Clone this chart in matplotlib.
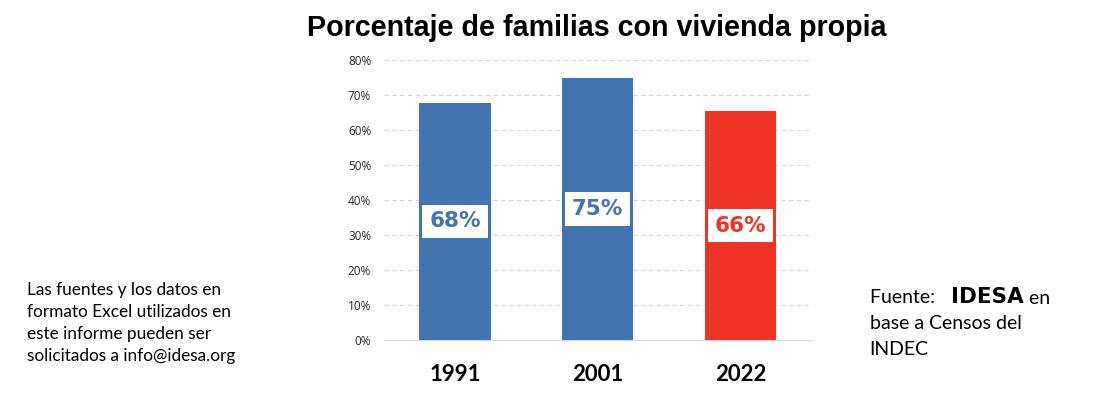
import matplotlib.pyplot as plt

years = ["1991", "2001", "2022"]
values = [67.7, 74.8, 65.4]
labels = ["68%", "75%", "66%"]
colors = ["#4174B0", "#4174B0", "#EE3424"]
yticks = [0, 10, 20, 30, 40, 50, 60, 70, 80]

note_lines = ["Las fuentes y los datos en", "formato Excel utilizados en",
              "este informe pueden ser", "solicitados a info@idesa.org"]

fig = plt.figure(figsize=(11.12, 3.94), dpi=100)
ax = fig.add_axes([0.345, 0.137, 0.385, 0.711])

x = range(len(years))
bars = ax.bar(x, values, width=0.5, color=colors, zorder=3)

for i, (v, lab, c) in enumerate(zip(values, labels, colors)):
    ax.text(i, v / 2, lab, ha="center", va="center", fontsize=15.5, fontweight="bold",
            color=c, family="DejaVu Sans", zorder=4,
            bbox=dict(facecolor="white", edgecolor="none", boxstyle="square,pad=0.32"))

ax.set_xlim(-0.5, 2.5)
ax.set_ylim(0, 80)
ax.set_yticks(yticks)
ax.set_yticklabels([f"{t}%" for t in yticks], fontsize=8.5, family="Open Sans", color="#262626")
ax.set_xticks(list(x))
ax.set_xticklabels(years, fontsize=16, fontweight="bold", family="Lato")
ax.tick_params(axis="both", length=0)
ax.tick_params(axis="x", pad=17)
ax.tick_params(axis="y", pad=9)
ax.grid(axis="y", color="#D9D9D9", linestyle=(0, (4, 3)), linewidth=0.8, zorder=0)
for s in ["top", "right", "left"]:
    ax.spines[s].set_visible(False)
ax.spines["bottom"].set_color("#D9D9D9")

fig.text(0.537, 0.93, "Porcentaje de familias con vivienda propia", ha="center", va="center",
         fontsize=20.6, fontweight="bold", family="Liberation Sans")

# nota a la izquierda, una línea cada 22 px
for k, line in enumerate(note_lines):
    fig.text(0.024, 1 - (295 + 22 * k) / 394, line, ha="left", va="baseline",
             fontsize=12.4, family="Lato")

# fuente a la derecha
t1 = fig.text(0.782, 1 - 303 / 394, "Fuente: ", ha="left", va="baseline", fontsize=14, family="Lato")
a2 = fig.text(0.855, 1 - 303 / 394, "IDESA", ha="left", va="baseline",
              fontsize=15.5, family="DejaVu Sans", fontweight="bold")
a3 = plt.annotate(" en", xy=(1, 0), xycoords=a2, ha="left", va="bottom",
                  fontsize=14, family="Lato")
fig.text(0.782, 1 - 329 / 394, "base a Censos del", ha="left", va="baseline", fontsize=14,
         family="Lato")
fig.text(0.782, 1 - 355 / 394, "INDEC", ha="left", va="baseline", fontsize=14,
         family="Lato")

fig.savefig("out.png", dpi=100)
